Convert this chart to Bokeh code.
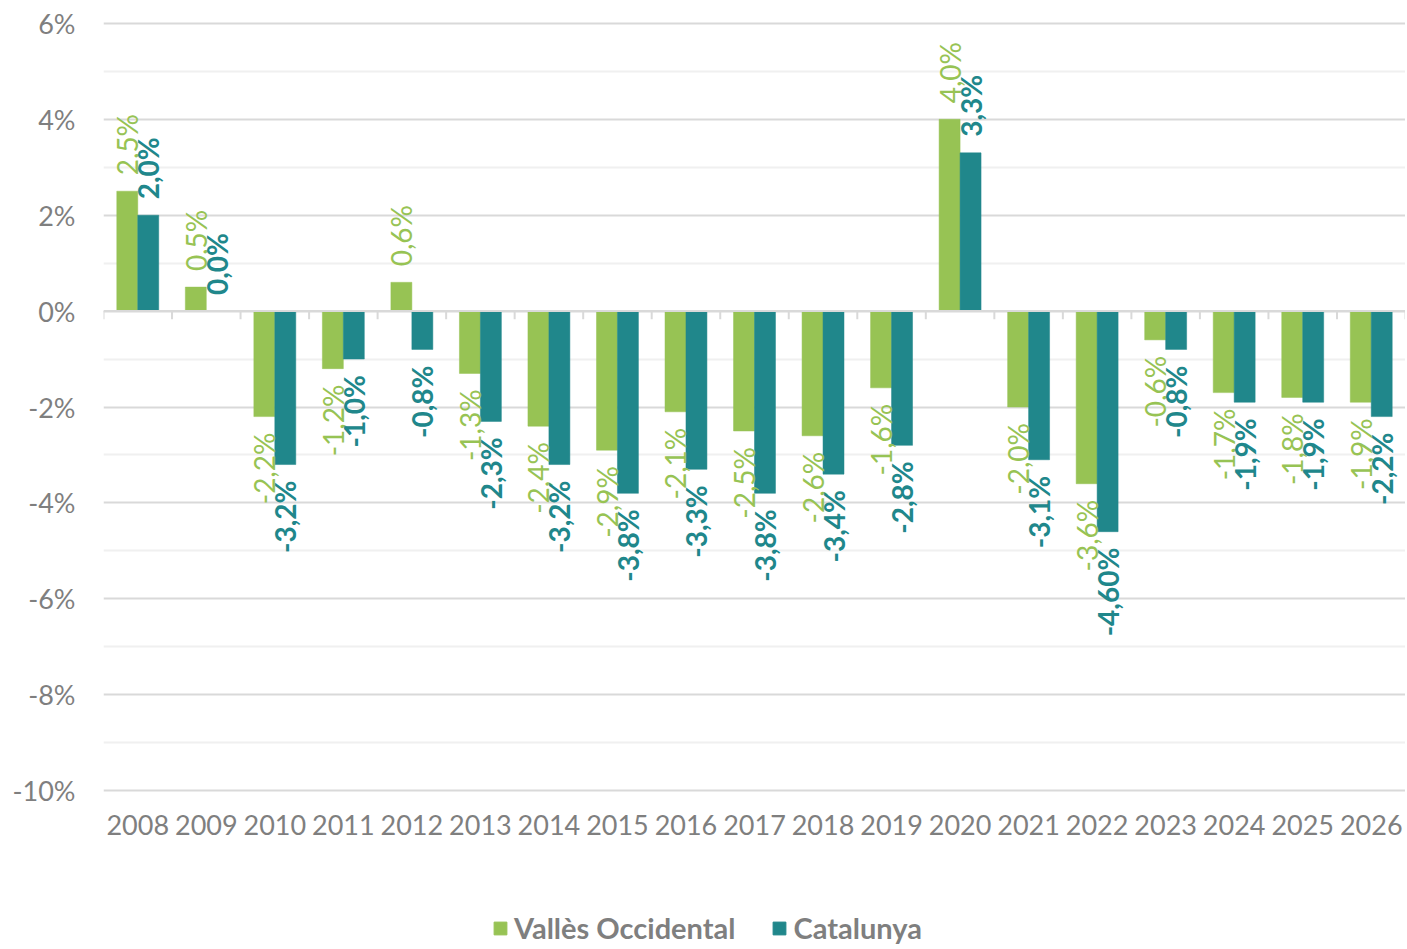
import math
from bokeh.plotting import figure
from bokeh.layouts import column
from bokeh.models import (ColumnDataSource, FixedTicker, Span, Legend, LegendItem, Range1d)
from bokeh.core.properties import value
from bokeh.embed import file_html
from bokeh.resources import INLINE

years = ["2008", "2009", "2010", "2011", "2012", "2013", "2014", "2015", "2016", "2017",
         "2018", "2019", "2020", "2021", "2022", "2023", "2024", "2025", "2026"]
valles = [2.5, 0.5, -2.2, -1.2, 0.6, -1.3, -2.4, -2.9, -2.1, -2.5,
          -2.6, -1.6, 4.0, -2.0, -3.6, -0.6, -1.7, -1.8, -1.9]
catalunya = [2.0, 0.0, -3.2, -1.0, -0.8, -2.3, -3.2, -3.8, -3.3, -3.8,
             -3.4, -2.8, 3.3, -3.1, -4.6, -0.8, -1.9, -1.9, -2.2]
valles_labels = ["2,5%", "0,5%", "-2,2%", "-1,2%", "0,6%", "-1,3%", "-2,4%", "-2,9%", "-2,1%", "-2,5%",
                 "-2,6%", "-1,6%", "4,0%", "-2,0%", "-3,6%", "-0,6%", "-1,7%", "-1,8%", "-1,9%"]
catalunya_labels = ["2,0%", "0,0%", "-3,2%", "-1,0%", "-0,8%", "-2,3%", "-3,2%", "-3,8%", "-3,3%", "-3,8%",
                    "-3,4%", "-2,8%", "3,3%", "-3,1%", "-4,60%", "-0,8%", "-1,9%", "-1,9%", "-2,2%"]
series_names = ["Vallès Occidental", "Catalunya"]
y_ticks = [-10, -8, -6, -4, -2, 0, 2, 4, 6]
y_minor = [-9, -7, -5, -3, -1, 1, 3, 5]

GREEN = "#97C354"
TEAL = "#20878B"
GREY = "#7f7f7f"
FONT = "Lato"
BW = 0.306
W = 1405

n = len(years)
idx = list(range(n))

p = figure(width=W, height=862, output_backend="svg", toolbar_location=None,
           x_range=Range1d(-0.5, n - 0.5), y_range=Range1d(-10.06, 6.06),
           min_border_left=103, min_border_right=0, min_border_top=20, min_border_bottom=69)
p.outline_line_color = None
p.background_fill_color = "white"
p.border_fill_color = "white"

# grids
p.xgrid.visible = False
p.yaxis.ticker = FixedTicker(ticks=y_ticks, minor_ticks=y_minor)
p.ygrid.grid_line_color = "#d9d9d9"
p.ygrid.grid_line_width = 2
p.ygrid.minor_grid_line_color = "#f0f0f0"
p.ygrid.minor_grid_line_width = 2

# y axis
p.yaxis.axis_line_color = None
p.yaxis.major_tick_line_color = None
p.yaxis.minor_tick_line_color = None
p.yaxis.major_label_overrides = {t: f"{t}%" for t in y_ticks}
p.yaxis.major_label_text_font = FONT
p.yaxis.major_label_text_font_size = "27px"
p.yaxis.major_label_text_color = GREY
p.yaxis.major_label_standoff = 22

# x axis
p.xaxis.ticker = FixedTicker(ticks=idx)
p.xaxis.major_label_overrides = {i: y for i, y in enumerate(years)}
p.xaxis.axis_line_color = None
p.xaxis.major_tick_line_color = None
p.xaxis.minor_tick_line_color = None
p.xaxis.major_label_text_font = FONT
p.xaxis.major_label_text_font_size = "27px"
p.xaxis.major_label_text_color = GREY
p.xaxis.major_label_standoff = 15

# zero line and category boundary ticks
p.add_layout(Span(location=0, dimension="width", line_color="#d9d9d9", line_width=2))
bounds = [i - 0.5 for i in range(n + 1)]
p.segment(x0=bounds, x1=bounds, y0=[0] * len(bounds), y1=[-0.17] * len(bounds),
          line_color="#d9d9d9", line_width=2)

src_v = ColumnDataSource(dict(x=[i - BW / 2 for i in idx], top=valles))
src_c = ColumnDataSource(dict(x=[i + BW / 2 for i in idx], top=catalunya))
p.vbar(x="x", top="top", bottom=0, width=BW, source=src_v,
       fill_color=GREEN, line_color=GREEN, line_width=0.5)
p.vbar(x="x", top="top", bottom=0, width=BW, source=src_c,
       fill_color=TEAL, line_color=TEAL, line_width=0.5)

def add_labels(xs, vals, labels, color, style):
    pos = dict(x=[], y=[], t=[])
    neg = dict(x=[], y=[], t=[])
    for x, v, t in zip(xs, vals, labels):
        d = pos if v >= 0 else neg
        d["x"].append(x)
        d["y"].append(v)
        d["t"].append(t)
    p.text(x="x", y="y", text="t", source=ColumnDataSource(pos), angle=math.pi / 2,
           text_align="left", text_baseline="middle", y_offset=-16,
           text_font=value(FONT), text_font_size="28px", text_color=color,
           text_font_style=style)
    p.text(x="x", y="y", text="t", source=ColumnDataSource(neg), angle=math.pi / 2,
           text_align="right", text_baseline="middle", y_offset=16,
           text_font=value(FONT), text_font_size="28px", text_color=color,
           text_font_style=style)

add_labels([i - BW / 2 for i in idx], valles, valles_labels, GREEN, "normal")
add_labels([i + BW / 2 for i in idx], catalunya, catalunya_labels, TEAL, "bold")

# legend strip below the chart (swatch renderers sit outside the visible range)
pl = figure(width=W, height=83, output_backend="svg", toolbar_location=None,
            x_range=Range1d(0, 1), y_range=Range1d(0, 1),
            x_axis_type=None, y_axis_type=None,
            min_border_left=0, min_border_right=0, min_border_top=0, min_border_bottom=0)
pl.outline_line_color = None
pl.xgrid.visible = False
pl.ygrid.visible = False
lr_v = pl.vbar(x=[-5], top=[-5], bottom=[-6], width=0.1, fill_color=GREEN, line_color=GREEN)
lr_c = pl.vbar(x=[-5], top=[-5], bottom=[-6], width=0.1, fill_color=TEAL, line_color=TEAL)
legend = Legend(items=[LegendItem(label=series_names[0], renderers=[lr_v]),
                       LegendItem(label=series_names[1], renderers=[lr_c])],
                orientation="horizontal", location=(389, 0),
                padding=0, margin=0, spacing=36, label_standoff=6,
                glyph_width=16, glyph_height=16, label_height=30,
                label_text_font=FONT, label_text_font_size="29px",
                label_text_font_style="bold", label_text_color=GREY,
                border_line_color=None, background_fill_alpha=0)
pl.add_layout(legend, "center")

layout = column(p, pl, spacing=0)
open("out.html", "w").write(file_html(layout, INLINE))
